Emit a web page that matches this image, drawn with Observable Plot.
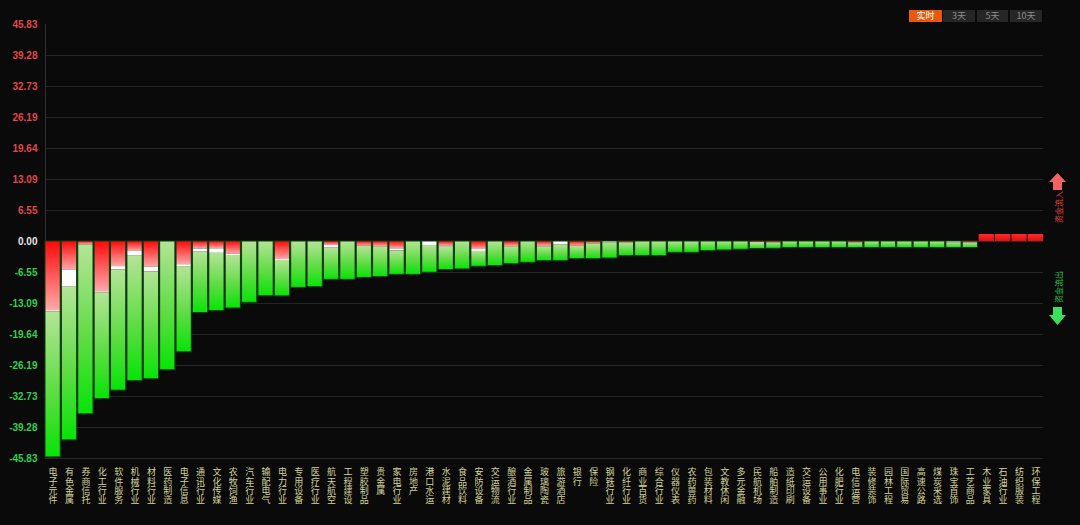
<!DOCTYPE html>
<html><head><meta charset="utf-8">
<script src="https://cdn.jsdelivr.net/npm/d3@7"></script>
<script src="https://cdn.jsdelivr.net/npm/@observablehq/plot@0.6"></script>
<style>
html,body{margin:0;padding:0;background:#0a0a0a;}
#wrap{position:relative;width:1080px;height:525px;overflow:hidden;background:#0a0a0a;}
#chart{position:absolute;left:0;top:0;}
.btn{position:absolute;top:10px;height:12px;line-height:12px;font-size:9px;text-align:center;font-family:"Noto Sans CJK SC","Noto Sans",sans-serif;color:#8c8c8c;background:#262626;}
.btn.on{background:#e8590c;color:#ffffff;}
#side{position:absolute;left:0;top:0;pointer-events:none;}
</style></head>
<body>
<div id="wrap">
  <div id="chart"></div>
  <div class="btn on" style="left:909px;width:33px;">实时</div>
  <div class="btn" style="left:943px;width:32px;">3天</div>
  <div class="btn" style="left:977px;width:31px;">5天</div>
  <div class="btn" style="left:1010px;width:32px;">10天</div>
  <svg id="side" width="1080" height="525">
    <polygon points="1057.5,173 1066,182 1062,182 1062,190 1053,190 1053,182 1049,182" fill="#f26464"/>
    <text transform="translate(1058,207) rotate(-90)" text-anchor="middle" dominant-baseline="central" font-size="8" fill="#e04545" font-family="Noto Sans CJK SC">资金流入</text>
    <text transform="translate(1058,287) rotate(-90)" text-anchor="middle" dominant-baseline="central" font-size="8" fill="#2fc04a" font-family="Noto Sans CJK SC">资金流出</text>
    <polygon points="1053,307 1062,307 1062,315 1066,315 1057.5,325 1049,315 1053,315" fill="#3be05a"/>
  </svg>
</div>
<script>
const categories = ["电子元件","有色金属","券商信托","化工行业","软件服务","机械行业","材料行业","医药制造","电子信息","通讯行业",
  "文化传媒","农牧饲渔","汽车行业","输配电气","电力行业","专用设备","医疗行业","航天航空","工程建设","塑胶制品",
  "贵金属","家电行业","房地产","港口水运","水泥建材","食品饮料","安防设备","交运物流","酿酒行业","金属制品",
  "玻璃陶瓷","旅游酒店","银行","保险","钢铁行业","化纤行业","商业百货","综合行业","仪器仪表","农药兽药",
  "包装材料","文教休闲","多元金融","民航机场","船舶制造","造纸印刷","交运设备","公用事业","化肥行业","电信运营",
  "装修装饰","园林工程","国际贸易","高速公路","煤炭采选","珠宝首饰","工艺商品","木业家具","石油行业","纺织服装","环保工程"];

// net flow (total bar value)
const netFlow = [-45.6,-42.0,-36.5,-33.3,-31.5,-29.5,-29.1,-27.2,-23.4,-15.1,
  -14.7,-14.15,-12.95,-11.55,-11.6,-9.8,-9.65,-8.1,-8.1,-7.7,
  -7.5,-7.05,-7.05,-6.6,-6.05,-5.9,-5.35,-5.2,-4.8,-4.5,
  -4.15,-4.15,-3.73,-3.73,-3.6,-3.1,-3.1,-3.1,-2.4,-2.4,
  -2.05,-1.9,-1.75,-1.6,-1.55,-1.4,-1.4,-1.4,-1.4,-1.4,
  -1.4,-1.4,-1.4,-1.4,-1.4,-1.4,-1.4,1.48,1.48,1.48,1.48];

// end of the red (inflow) part, measured from 0
const redEnd = [-14.6,-6.1,-0.7,-10.6,-5.3,-2.1,-5.4,0,-4.9,-1.6,
  -1.55,-2.7,0,0,-3.8,0,0,-0.85,0,-1.0,
  -1.1,-1.55,0,0,-1.0,0,-1.7,0,-1.1,0,
  -1.0,0,-1.0,-0.5,0,-0.3,0,0,0,0,
  0,0,0,-0.25,-0.3,0,0,0,0,-0.3,
  0,0,0,0,0,0,-0.35,0,0,0,0];

// end of the white (neutral) band that follows the red part
const whiteEnd = [-14.9,-9.65,-0.7,-10.9,-5.98,-3.1,-6.4,0,-5.3,-2.25,
  -2.5,-2.96,0,0,-4.0,0,0,-1.4,0,-1.0,
  -1.1,-1.98,0,-0.85,-1.2,0,-2.1,0,-1.1,0,
  -1.1,-0.75,-1.0,-0.5,-0.25,-0.3,0,0,0,0,
  0,0,0,-0.4,-0.3,0,0,0,0,-0.3,
  0,0,0,0,0,-0.3,-0.35,0,0,0,0];

const yTicks = [45.83,39.28,32.73,26.19,19.64,13.09,6.55,0,-6.55,-13.09,-19.64,-26.19,-32.73,-39.28,-45.83];

const rows = categories.map((c, i) => ({c, v: netFlow[i], r: redEnd[i], w: whiteEnd[i]}));
const fmt = d => d.toFixed(2);

const svg = Plot.plot({
  width: 1080,
  height: 525,
  marginTop: 24,
  marginBottom: 67,
  marginLeft: 45,
  marginRight: 37,
  style: {background: "transparent", color: "#cccccc", fontFamily: "Liberation Sans, sans-serif"},
  x: {domain: categories, paddingInner: 0.07, paddingOuter: 0, round: false, label: null},
  y: {domain: [-45.83, 45.83], label: null},
  marks: [
    Plot.gridY(yTicks.filter(t => t !== 45.83), {stroke: "#262626", strokeOpacity: 1}),
    Plot.frame({anchor: "left", stroke: "#303030"}),
    Plot.barY(rows.filter(d => d.r < 0), {x: "c", y1: () => 0, y2: "r", fill: "url(#gRed)"}),
    Plot.barY(rows.filter(d => d.w < d.r), {x: "c", y1: "r", y2: "w", fill: "#ffffff"}),
    Plot.barY(rows.filter(d => d.v < 0), {x: "c", y1: "w", y2: "v", fill: "url(#gGreen)"}),
    Plot.barY(rows.filter(d => d.v < 0), {x: "c", y1: () => 0, y2: "v", fill: "none", stroke: "#0d3f0d", strokeWidth: 1}),
    Plot.barY(rows.filter(d => d.v > 0), {x: "c", y1: () => 0, y2: "v", fill: "url(#gPos)"}),
    Plot.axisY(yTicks.filter(t => t > 0), {tickSize: 0, tickPadding: 8, tickFormat: fmt, fill: "#e0484c", fontSize: 10, fontWeight: "bold", label: null}),
    Plot.axisY([0], {tickSize: 0, tickPadding: 8, tickFormat: fmt, fill: "#e6e6e6", fontSize: 10, fontWeight: "bold", label: null}),
    Plot.axisY(yTicks.filter(t => t < 0), {tickSize: 0, tickPadding: 8, tickFormat: fmt, fill: "#2ed052", fontSize: 10, fontWeight: "bold", label: null}),
    Plot.axisX({tickSize: 0, tickPadding: 10, tickFormat: d => Array.from(d).join("\n"), fill: "#d4d49a", fontSize: 9, lineHeight: 1.04, fontFamily: "Noto Sans CJK SC", label: null})
  ]
});

const defs = d3.select(svg).insert("defs", ":first-child");
function grad(id, stops) {
  const g = defs.append("linearGradient").attr("id", id).attr("x1", 0).attr("y1", 0).attr("x2", 0).attr("y2", 1);
  stops.forEach(([o, c]) => g.append("stop").attr("offset", o).attr("stop-color", c));
}
grad("gRed", [[0, "#ff0808"], [0.5, "#ff5a5a"], [1, "#ffaaaa"]]);
grad("gGreen", [[0, "#b4e496"], [0.55, "#5fdc45"], [1, "#06e406"]]);
grad("gPos", [[0, "#ff2a2a"], [1, "#e80c0c"]]);

document.getElementById("chart").appendChild(svg);
</script>
</body></html>
